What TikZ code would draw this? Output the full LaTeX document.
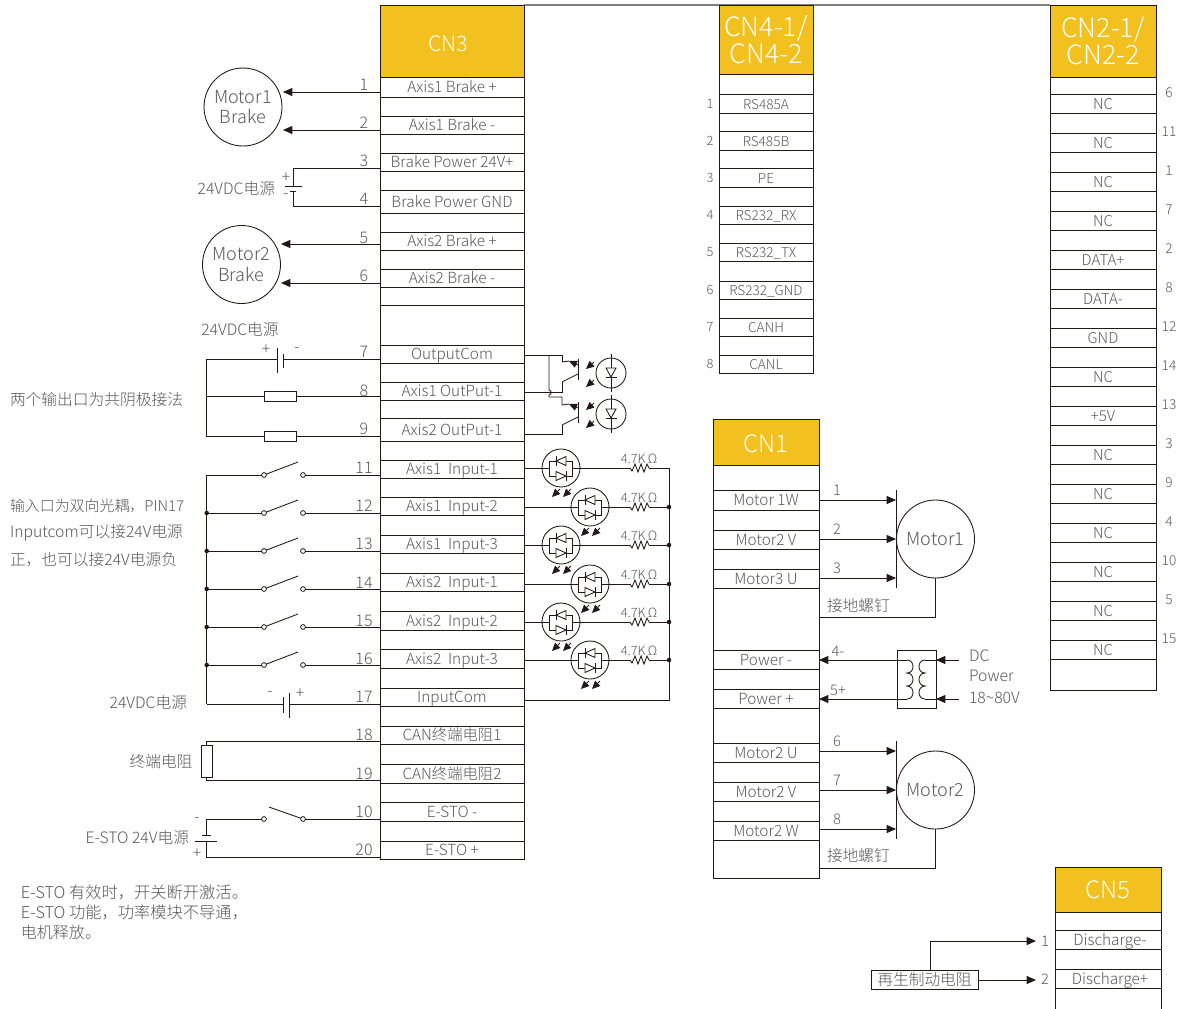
\documentclass[tikz,border=0pt]{standalone}
\usepackage{fontspec}
\setmainfont{Noto Sans CJK SC}[UprightFont=* Light]
\usetikzlibrary{arrows.meta,calc}
\definecolor{ink}{HTML}{231815}
\definecolor{txt}{HTML}{595757}
\definecolor{head}{HTML}{F2C11F}
\definecolor{rule}{HTML}{808080}
\newcommand\fs[1]{\fontsize{#1}{#1}\selectfont}
\tikzset{
  wire/.style={draw=ink,line width=0.65pt},
  arr/.style={wire,-{Triangle[length=7pt,width=6pt]}},
  smallarr/.style={wire,-{Triangle[length=6pt,width=5.4pt]}},
  cellbox/.style={draw=ink,line width=0.65pt,rectangle,inner sep=0pt,outer sep=0pt,anchor=north west,text=txt,font=\fs{11.5},text height=10pt,text depth=1.5pt,align=center},
  smallcell/.style={cellbox,font=\fs{10.2}},
  widecell/.style={cellbox,font=\fs{11.2}},
  headbox/.style={draw=ink,line width=0.65pt,fill=head,rectangle,inner sep=0pt,outer sep=0pt,anchor=north west,text=white,align=center},
  lab/.style={text=txt,inner sep=0pt,outer sep=0pt,font=\fs{11.8}},
  pinno/.style={text=txt,inner sep=0pt,outer sep=0pt,font=\fs{12}},
  smallno/.style={text=txt,inner sep=0pt,outer sep=0pt,font=\fs{9.6}},
  motor/.style={draw=ink,line width=0.65pt,circle,inner sep=0pt,outer sep=0pt,minimum size=58.5pt,text=txt,font=\fs{13.5},align=center},
  jdot/.style={fill=ink,circle,inner sep=0pt,outer sep=0pt,minimum size=3.4pt},
  contact/.style={draw=ink,fill=white,line width=0.6pt,circle,inner sep=0pt,outer sep=0pt,minimum size=3.6pt},
  resbox/.style={draw=ink,line width=0.65pt,rectangle,inner sep=0pt,outer sep=0pt,fill=white},
  lamp/.style={draw=ink,line width=0.65pt,circle,inner sep=0pt,outer sep=0pt,minimum size=22.5pt},
  bilamp/.style={draw=ink,line width=0.65pt,circle,inner sep=0pt,outer sep=0pt,minimum size=28.5pt},
}
\newcommand\cell[7][cellbox]{\node[#1,minimum width={(#5-#3)*0.75pt},minimum height={(#6-#4)*0.75pt}] (#2) at (#3,#4) {#7};}
\newcommand\hdr[7]{\node[headbox,font=\fs{#7},minimum width={(#4-#2)*0.75pt},minimum height={(#5-#3)*0.75pt}] (#1) at (#2,#3) {#6};}
% switch: name, y, blade tip x, tip y
\newcommand\swt[4]{\node[contact] (#1a) at (264,#2) {};\node[contact] (#1b) at (303,#2) {};\coordinate (#1t) at (#3,#4);\draw[wire] (#1a) -- (#1t);}
% bidirectional optocoupler LED
\newcommand\biopto[3]{\begin{scope}[shift={(#2,#3)}]
 \node[bilamp] (#1) at (0,0) {};
 \draw[wire] (-19,0) -- (-12,0) (-12,-7) rectangle (11,8) (11,0) -- (19,0);
 \draw[wire,fill=white] (-5,-7) -- (5,-11.5) -- (5,-2.5) -- cycle;
 \draw[wire] (-5,-12) -- (-5,-2);
 \draw[wire,fill=white] (5,8) -- (-5,3.5) -- (-5,12.5) -- cycle;
 \draw[wire] (5,3) -- (5,13);
 \draw[smallarr] (-1,21) -- (-9,29);
 \draw[smallarr] (10,21) -- (2,29);
\end{scope}}
% output lamp
\newcommand\outled[3]{\begin{scope}[shift={(#2,#3)}]
 \node[lamp] (#1) at (0,0) {};
 \draw[wire] (0,-19) -- (0,19);
 \draw[wire,fill=white] (-5,-5) -- (5,-5) -- (0,4) -- cycle;
 \draw[wire] (-5.5,4) -- (5.5,4);
 \draw[smallarr] (-17,-11) -- (-25,-4);
 \draw[smallarr] (-17,7) -- (-25,14);
\end{scope}}
% output phototransistor
\newcommand\photo[3]{\begin{scope}[shift={(#2,#3)}]
 \coordinate (#1c) at (-16,-6);
 \coordinate (#1e) at (-16,14);
 \draw[wire] (0,-9) -- (0,12);
 \draw[smallarr] (0,-3) -- (-9,-7);
 \draw[wire] (-9,-7) -- (#1c);
 \draw[wire] (0,6) -- (#1e);
\end{scope}}
\newcommand\zig[2]{\begin{scope}[shift={(#1,#2)}]
 \draw[wire] (0,0) -- (2,3) -- (5,-4) -- (8,4) -- (11,-4) -- (14,4) -- (17,-4) -- (19,0);
\end{scope}}
\newcommand\coilR[2]{\draw[wire] (#1,#2) .. controls (#1+8,#2) and (#1+8,#2+13) .. (#1,#2+13) .. controls (#1+8,#2+13) and (#1+8,#2+26) .. (#1,#2+26) .. controls (#1+8,#2+26) and (#1+8,#2+39) .. (#1,#2+39);}
\newcommand\coilL[2]{\draw[wire] (#1,#2) .. controls (#1-8,#2) and (#1-8,#2+13) .. (#1,#2+13) .. controls (#1-8,#2+13) and (#1-8,#2+26) .. (#1,#2+26) .. controls (#1-8,#2+26) and (#1-8,#2+39) .. (#1,#2+39);}
\begin{document}
\begin{tikzpicture}[x=0.75pt,y=-0.75pt]
\useasboundingbox (0,0) rectangle (1181,1008);
% top rule
\coordinate (topL) at (524,5);
\coordinate (topR) at (1050,5);
\draw[draw=rule,line width=0.8pt] (topL) -- (topR);
% ---------- CN3
\node[cellbox,minimum width={144*0.75pt},minimum height={854*0.75pt}] (cn3) at (380,5) {};
\node[headbox,minimum width={144*0.75pt},minimum height={72*0.75pt},font=\fs{16}] (cn3h) at (380,5) {\rule{0pt}{16.2pt}CN3\hspace{6pt}};
\foreach \n/\t/\a/\b in {
 1/Axis1 Brake +/77/97, 2/Axis1 Brake -/116/134, 3/Brake Power 24V+/153/171,
 4/Brake Power GND/190/213, 5/Axis2 Brake +/232/250, 6/Axis2 Brake -/269/287,
 7/OutputCom/345/363, 8/Axis1 OutPut-1/382/400, 9/Axis2 OutPut-1/418/441,
 11/Axis1\ \ Input-1/460/478, 12/Axis1\ \ Input-2/497/515, 13/Axis1\ \ Input-3/535/553,
 14/Axis2\ \ Input-1/573/591, 15/Axis2\ \ Input-2/611/630, 16/Axis2\ \ Input-3/649/668,
 17/InputCom/688/706, 18/CAN终端电阻1/726/744, 19/CAN终端电阻2/764/783,
 10/E-STO -/802/821, 20/E-STO +/841/859}{
  \cell{r\n}{380}{\a}{524}{\b}{\t}
}
\coordinate (l305a) at (380,305);
\coordinate (l305b) at (524,305);
\draw[wire] (l305a) -- (l305b);
% pin numbers CN3
\foreach \n/\y in {1/85,2/123,3/161,4/199,5/238,6/276,7/352,8/391,9/429,11/468,12/506,13/544,14/583,15/621,16/659,17/697,18/735,19/774,10/812,20/850}{
  \node[pinno] (no\n) at (364,\y) {\n};
}
% motor brakes
\node[motor] (mb1) at (243,107) {Motor1\\[2pt]Brake};
\node[motor] (mb2) at (241.5,264.5) {Motor2\\[2pt]Brake};
\coordinate (a1) at (283,92); \coordinate (a2) at (283,130); \coordinate (a5) at (281,244); \coordinate (a6) at (281,283);
\draw[arr] (r1.west |- 0,92) -- (a1);
\draw[arr] (r2.west |- 0,130) -- (a2);
\draw[arr] (r5.west |- 0,244) -- (a5);
\draw[arr] (r6.west |- 0,283) -- (a6);
% brake power battery
\coordinate (bb1) at (293,186); \coordinate (bb2) at (293,191);
\coordinate (bb1l) at (285,186); \coordinate (bb1r) at (302,186);
\coordinate (bb2l) at (290,191); \coordinate (bb2r) at (296,191);
\draw[wire] (r3.west |- 0,168) -| (bb1);
\draw[wire] (r4.west |- 0,206) -| (bb2);
\draw[wire] (bb1l) -- (bb1r);
\draw[wire] (bb2l) -- (bb2r);
\node[lab,anchor=east] (t24a) at (275,188.5) {24VDC电源};
\node[lab] (bbp) at (286,178) {+};
\node[lab] (bbm) at (286,196) {-};
% output section
\node[lab] (t24b) at (240,330) {24VDC电源};
\coordinate (bat7a) at (283,359); \coordinate (bat7b) at (277,359);
\coordinate (bat7at) at (283,354); \coordinate (bat7ab) at (283,368);
\coordinate (bat7bt) at (277,348); \coordinate (bat7bb) at (277,373);
\coordinate (busT) at (206.7,359); \coordinate (busB) at (206.7,436.5);
\draw[wire] (r7.west |- 0,359) -- (bat7a);
\draw[wire] (bat7at) -- (bat7ab);
\draw[wire] (bat7bt) -- (bat7bb);
\draw[wire] (bat7b) -- (busT) -- (busB);
\node[lab] (b7p) at (266,350) {+};
\node[lab] (b7m) at (297,350) {-};
\node[resbox,minimum width=24pt,minimum height=8pt] (res8) at (280,396.5) {};
\node[resbox,minimum width=24pt,minimum height=7.5pt] (res9) at (280,436.5) {};
\draw[wire] (r8.west |- 0,396.5) -- (res8.east);
\draw[wire] (res8.west) -- (busT |- res8.west);
\draw[wire] (r9.west |- 0,436.5) -- (res9.east);
\draw[wire] (res9.west) -- (busB);
\node[lab,anchor=west] (tout) at (10,400) {两个输出口为共阴极接法};
% input switches
\swt{s11}{475}{298}{462}
\swt{s12}{513}{298}{500}
\swt{s13}{551}{298}{538}
\swt{s14}{589}{298}{576}
\swt{s15}{627}{298}{614}
\swt{s16}{665}{298}{652}
\coordinate (ibT) at (206.7,475);
\coordinate (ibB) at (206.7,704);
\draw[wire] (ibT) -- (ibB);
\foreach \n/\y in {11/475,12/513,13/551,14/589,15/627,16/665}{
  \draw[wire] (r\n.west |- 0,\y) -- (s\n b);
  \draw[wire] (s\n a) -- (ibT |- 0,\y);
}
\foreach \n/\y in {12/513,13/551,14/589,15/627,16/665}{
  \node[jdot] (lj\n) at (206.7,\y) {};
}
\node[lab,anchor=west,font=\fs{11.2}] (ti1) at (10,506) {输入口为双向光耦，PIN17};
\node[lab,anchor=west] (ti2) at (10,533) {Inputcom可以接24V电源};
\node[lab,anchor=west] (ti3) at (10,560) {正，也可以接24V电源负};
% 17 battery
\coordinate (b17a) at (289,704); \coordinate (b17b) at (283,704);
\coordinate (b17at) at (289,693); \coordinate (b17ab) at (289,718);
\coordinate (b17bt) at (283,697); \coordinate (b17bb) at (283,713);
\draw[wire] (r17.west |- 0,704) -- (b17a);
\draw[wire] (b17at) -- (b17ab);
\draw[wire] (b17bt) -- (b17bb);
\draw[wire] (b17b) -- (ibB);
\node[lab] (b17m) at (270,694) {-};
\node[lab] (b17p) at (300,694) {+};
\node[lab,anchor=east] (t24c) at (187,703) {24VDC电源};
% terminator
\node[resbox,minimum width=8pt,minimum height=24pt] (term) at (206.7,761) {};
\coordinate (tt) at (206.7,741.5); \coordinate (tb) at (206.7,780);
\draw[wire] (r18.west |- tt) -- (tt) -- (term.north);
\draw[wire] (r19.west |- tb) -- (tb) -- (term.south);
\node[lab] (tterm) at (161,762) {终端电阻};
% E-STO
\node[contact] (esa) at (264,819) {};
\node[contact] (esb) at (303,819) {};
\coordinate (est) at (269,807);
\draw[wire] (est) -- (esb);
\draw[wire] (r10.west |- esb) -- (esb);
\coordinate (ebt) at (206.7,835); \coordinate (ebb) at (206.7,841);
\coordinate (ebtl) at (202,835); \coordinate (ebtr) at (211,835);
\coordinate (ebbl) at (195,841); \coordinate (ebbr) at (217,841);
\draw[wire] (esa) -| (ebt);
\draw[wire] (ebtl) -- (ebtr);
\draw[wire] (ebbl) -- (ebbr);
\draw[wire] (r20.west |- 0,857) -| (ebb);
\node[lab,anchor=east] (tes) at (189,838) {E-STO 24V电源};
\node[lab] (esm) at (197,820) {-};
\node[lab] (esp) at (197,854) {+};
\node[lab,anchor=west,font=\fs{12.2}] (n1) at (21,892) {E-STO 有效时，开关断开激活。};
\node[lab,anchor=west,font=\fs{12.2}] (n2) at (21,912) {E-STO 功能，功率模块不导通，};
\node[lab,anchor=west,font=\fs{12}] (n3) at (21,932) {电机释放。};
% optos
\coordinate (oj1) at (549,355);
\coordinate (oj2) at (549,390);
\coordinate (oj3) at (562,397);
\photo{ph1}{578}{368}
\photo{ph2}{578}{411}
\draw[wire] (r7.east |- oj1) -| (ph1c);
\draw[wire] (ph1e) -- (562,392) -- (r8.east |- 0,392);
\draw[wire] (oj1) -- (oj2) .. controls (552,391) and (552,394) .. (549,395) -- (549,397) -- (oj3) -- (ph2c);
\draw[wire] (ph2e) -- (562,434) -- (r9.east |- 0,434);
\outled{led1}{611}{373}
\outled{led2}{611}{414}
% input LEDs
\coordinate (ibusT) at (669,468);
\coordinate (ibusB) at (669,700);
\foreach \n/\x/\y in {11/561/468,12/590/507,13/561/545,14/590/584,15/561/622,16/590/660}{
  \biopto{il\n}{\x}{\y}
  \draw[wire] (r\n.east |- 0,\y) -- (il\n.west);
  \coordinate (zs\n) at (630,\y);
  \coordinate (ze\n) at (649,\y);
  \draw[wire] (il\n.east) -- (zs\n);
  \zig{630}{\y}
  \draw[wire] (ze\n) -- (ibusT |- ze\n);
  \node[lab,font=\fs{9.6}] (rl\n) at (639,\y-9) {4.7K\,Ω};
}
\draw[wire] (ibusT) -- (ibusB) -- (r17.east |- ibusB);
\foreach \n/\y in {12/507,13/545,14/584,15/622,16/660}{
  \node[jdot] (rj\n) at (669,\y) {};
}
% ---------- CN4
\node[cellbox,minimum width={94*0.75pt},minimum height={368*0.75pt}] (cn4) at (719,5) {};
\hdr{cn4h}{719}{5}{813}{74}{CN4-1/\\[0pt]CN4-2}{20}
\foreach \n/\t/\a/\b in {1/RS485A/94/113,2/RS485B/131/150,3/PE/168/187,4/RS232\_RX/206/224,5/RS232\_TX/243/261,6/RS232\_GND/281/299,7/CANH/318/336,8/CANL/355/373}{
  \cell[smallcell]{c4r\n}{719}{\a}{813}{\b}{\t}
  \node[smallno] (c4n\n) at (710,{(\a+\b)/2}) {\n};
}
% ---------- CN2
\node[cellbox,minimum width={106*0.75pt},minimum height={685*0.75pt}] (cn2) at (1050,5) {};
\hdr{cn2h}{1050}{5}{1156}{77}{CN2-1/\\[0pt]CN2-2}{20}
\foreach \i/\t/\n/\a in {1/NC/6/94,2/NC/11/133,3/NC/1/172,4/NC/7/211,5/DATA+/2/250,6/DATA-/8/289,7/GND/12/328,8/NC/14/367,9/+5V/13/406,10/NC/3/445,11/NC/9/484,12/NC/4/523,13/NC/10/562,14/NC/5/601,15/NC/15/640}{
  \cell[widecell]{c2r\i}{1050}{\a}{1156}{\a+19}{\t}
  \node[lab,font=\fs{10.2}] (c2n\i) at (1169,{\a-1}) {\n};
}
% ---------- CN1
\node[cellbox,minimum width={106*0.75pt},minimum height={459*0.75pt}] (cn1) at (713,419) {};
\node[headbox,minimum width={106*0.75pt},minimum height={46*0.75pt},font=\fs{18}] (cn1h) at (713,419) {\rule{0pt}{16.1pt}CN1};
\foreach \n/\t/\a/\b in {1/Motor 1W/490/510,2/Motor2 V/530/549,3/Motor3 U/569/588,4/Power -/650/669,5/Power +/689/708,6/Motor2 U/743/762,7/Motor2 V/782/801,8/Motor2 W/821/840}{
  \cell{c1r\n}{713}{\a}{819}{\b}{\t}
}
\node[motor] (m1) at (935.5,539) {Motor1};
\node[motor] (m2) at (935.5,790) {Motor2};
\coordinate (bar1t) at (896,490); \coordinate (bar1b) at (896,588);
\coordinate (bar2t) at (896,741); \coordinate (bar2b) at (896,839);
\draw[wire] (bar1t) -- (bar1b);
\draw[wire] (bar2t) -- (bar2b);
\foreach \n/\y in {1/500,2/539,3/578,6/751,7/790,8/829}{
  \draw[arr] (c1r\n.east |- 0,\y) -- (bar1t |- 0,\y);
  \node[pinno,font=\fs{11}] (c1n\n) at (837,\y-10) {\n};
}
\coordinate (g1) at (935.5,617); \coordinate (g1l) at (819,617);
\coordinate (g2) at (935.5,868); \coordinate (g2l) at (819,868);
\draw[wire] (m1.south) -- (g1) -- (g1l);
\draw[wire] (m2.south) -- (g2) -- (g2l);
\node[lab,anchor=west] (g1t) at (827,606) {接地螺钉};
\node[lab,anchor=west] (g2t) at (827,856) {接地螺钉};
% transformer
\node[cellbox,minimum width={39*0.75pt},minimum height={58*0.75pt}] (tr) at (897,650) {};
\coilR{907}{660}
\coilL{925}{660}
\coordinate (tl1) at (907,660); \coordinate (tl2) at (907,699);
\coordinate (tr1) at (925,660); \coordinate (tr2) at (925,699);
\coordinate (in1) at (959,660); \coordinate (in2) at (959,699);
\draw[arr] (tl1) -- (c1r4.east |- tl1);
\draw[arr] (tl2) -- (c1r5.east |- tl2);
\draw[wire] (tr1) -- (tr.east |- tr1);
\draw[wire] (tr2) -- (tr.east |- tr2);
\draw[arr] (in1) -- (tr.east |- in1);
\draw[arr] (in2) -- (tr.east |- in2);
\node[pinno,font=\fs{11}] (pm4) at (838,651) {4-};
\node[pinno,font=\fs{11}] (pm5) at (838,690) {5+};
\node[lab,anchor=west] (dc1) at (969,656) {DC};
\node[lab,anchor=west] (dc2) at (969,676) {Power};
\node[lab,anchor=west] (dc3) at (969,698) {18\textasciitilde80V};
% ---------- CN5
\node[cellbox,minimum width={106*0.75pt},minimum height={142*0.75pt}] (cn5) at (1055,867) {};
\hdr{cn5h}{1055}{867}{1161}{912}{CN5}{18}
\cell{c5r1}{1055}{930}{1161}{949}{\hspace{3pt}Discharge-}
\cell{c5r2}{1055}{969}{1161}{988}{\hspace{3pt}Discharge+}
\node[cellbox,font=\fs{11.8},minimum width={107*0.75pt},minimum height={19*0.75pt}] (brk) at (871,970) {再生制动电阻};
\node[pinno,font=\fs{11}] (c5n1) at (1045,941) {1};
\node[pinno,font=\fs{11}] (c5n2) at (1045,979) {2};
\coordinate (e1) at (1036,941); \coordinate (e2) at (1036,980);
\coordinate (bk) at (930,941);
\draw[arr] (brk.north -| bk) -- (bk) -- (e1);
\draw[arr] (brk.east |- e2) -- (e2);
\end{tikzpicture}
\end{document}
